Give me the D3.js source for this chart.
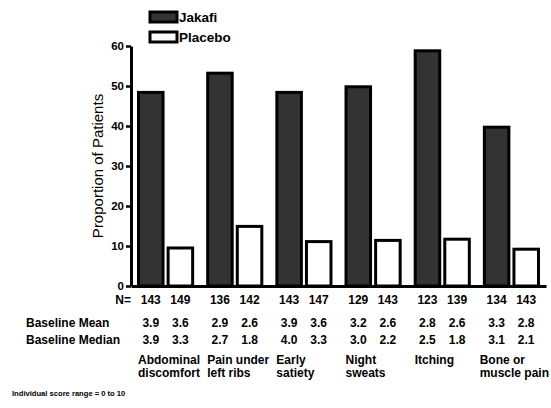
<!DOCTYPE html>
<html>
<head>
<meta charset="utf-8">
<script src="https://cdn.jsdelivr.net/npm/d3@7"></script>
<style>
  body { margin: 0; background: #fff; }
  svg text { font-family: "Liberation Sans", Arial, sans-serif; }
</style>
</head>
<body>
<svg id="chart"></svg>
<script>
// data
const categories = [["Abdominal", "discomfort"], ["Pain under", "left ribs"], ["Early", "satiety"], ["Night", "sweats"], ["Itching"], ["Bone or", "muscle pain"]];
const seriesNames = ["Jakafi", "Placebo"];
const jakafi = [48.4, 53.2, 48.4, 49.8, 58.8, 39.7];
const placebo = [9.5, 14.9, 11.1, 11.4, 11.7, 9.2];
const nJakafi = [143, 136, 143, 129, 123, 134];
const nPlacebo = [149, 142, 147, 143, 139, 143];
const meanJakafi = ["3.9", "2.9", "3.9", "3.2", "2.8", "3.3"];
const meanPlacebo = ["3.6", "2.6", "3.6", "2.6", "2.6", "2.8"];
const medianJakafi = ["3.9", "2.7", "4.0", "3.0", "2.5", "3.1"];
const medianPlacebo = ["3.3", "1.8", "3.3", "2.2", "1.8", "2.1"];
const yTicks = [0, 10, 20, 30, 40, 50, 60];

const width = 551, height = 408;
const svg = d3.select("#chart").attr("width", width).attr("height", height);

const x0 = d3.scaleBand().domain(d3.range(categories.length)).range([131, 546]).paddingInner(0.174).paddingOuter(0.087);
const x1 = d3.scaleBand().domain(seriesNames).range([0, x0.bandwidth()]).paddingInner(0.07);
const y = d3.scaleLinear().domain([0, 60]).range([286, 46]);
const fills = { Jakafi: "#333333", Placebo: "#ffffff" };

// bars
const groups = svg.append("g").selectAll("g").data(categories).enter().append("g")
  .attr("transform", (d, i) => `translate(${x0(i)},0)`);
groups.selectAll("rect").data((d, i) => [{ s: "Jakafi", v: jakafi[i] }, { s: "Placebo", v: placebo[i] }])
  .enter().append("rect")
  .attr("x", d => x1(d.s) + 1.5).attr("width", x1.bandwidth() - 3)
  .attr("y", d => y(d.v)).attr("height", d => y(0) - y(d.v))
  .attr("fill", d => fills[d.s]).attr("stroke", "#000").attr("stroke-width", 3);

// axes
const yAxis = svg.append("g").attr("transform", "translate(131,0)")
  .call(d3.axisLeft(y).tickValues(yTicks).tickSize(5).tickSizeOuter(0).tickPadding(2));
yAxis.select(".domain").attr("stroke-width", 3);
yAxis.selectAll(".tick line").attr("stroke-width", 2.5);
yAxis.selectAll("text").attr("font-size", 11.5).attr("font-weight", "bold").attr("fill", "#000");

const xAxis = svg.append("g").attr("transform", "translate(0,286)")
  .call(d3.axisBottom(d3.scaleLinear().range([131, 546])).tickValues([]).tickSizeOuter(0));
xAxis.select(".domain").attr("stroke-width", 3);

svg.append("text").attr("transform", "translate(103,166) rotate(-90)")
  .attr("text-anchor", "middle").attr("font-size", 15).text("Proportion of Patients");

// legend
const legend = svg.append("g");
seriesNames.forEach((s, i) => {
  legend.append("rect").attr("x", 150).attr("y", 12 + i * 20).attr("width", 27).attr("height", 10)
    .attr("fill", fills[s]).attr("stroke", "#000").attr("stroke-width", 3);
  legend.append("text").attr("x", 179).attr("y", 22 + i * 20)
    .attr("font-size", 13.5).attr("font-weight", "bold").text(s);
});

// table rows under the axis
const bold = sel => sel.attr("font-size", 12).attr("font-weight", "bold").attr("fill", "#000");
function row(yPos, a, b) {
  categories.forEach((c, i) => {
    bold(svg.append("text")).attr("x", x0(i) + x1("Jakafi") + x1.bandwidth() / 2).attr("y", yPos)
      .attr("text-anchor", "middle").text(a[i]);
    bold(svg.append("text")).attr("x", x0(i) + x1("Placebo") + x1.bandwidth() / 2).attr("y", yPos)
      .attr("text-anchor", "middle").text(b[i]);
  });
}
bold(svg.append("text")).attr("x", 131).attr("y", 304).attr("text-anchor", "end").text("N=");
row(304, nJakafi, nPlacebo);
bold(svg.append("text")).attr("x", 26).attr("y", 327).text("Baseline Mean");
row(327, meanJakafi, meanPlacebo);
bold(svg.append("text")).attr("x", 26).attr("y", 344).text("Baseline Median");
row(344, medianJakafi, medianPlacebo);

// category names, left aligned under each group, kept inside the page
categories.forEach((c, i) => {
  const t = bold(svg.append("text")).attr("y", 364);
  const spans = c.map((line, j) => t.append("tspan").attr("dy", j === 0 ? 0 : 13).text(line));
  const w = d3.max(spans, s => s.node().getComputedTextLength());
  const left = Math.min(x0(i) + 1, width - w - 2);
  spans.forEach(s => s.attr("x", left));
});

svg.append("text").attr("x", 12).attr("y", 396).attr("font-size", 7.6).attr("font-weight", "bold")
  .text("Individual score range = 0 to 10");
</script>
</body>
</html>
